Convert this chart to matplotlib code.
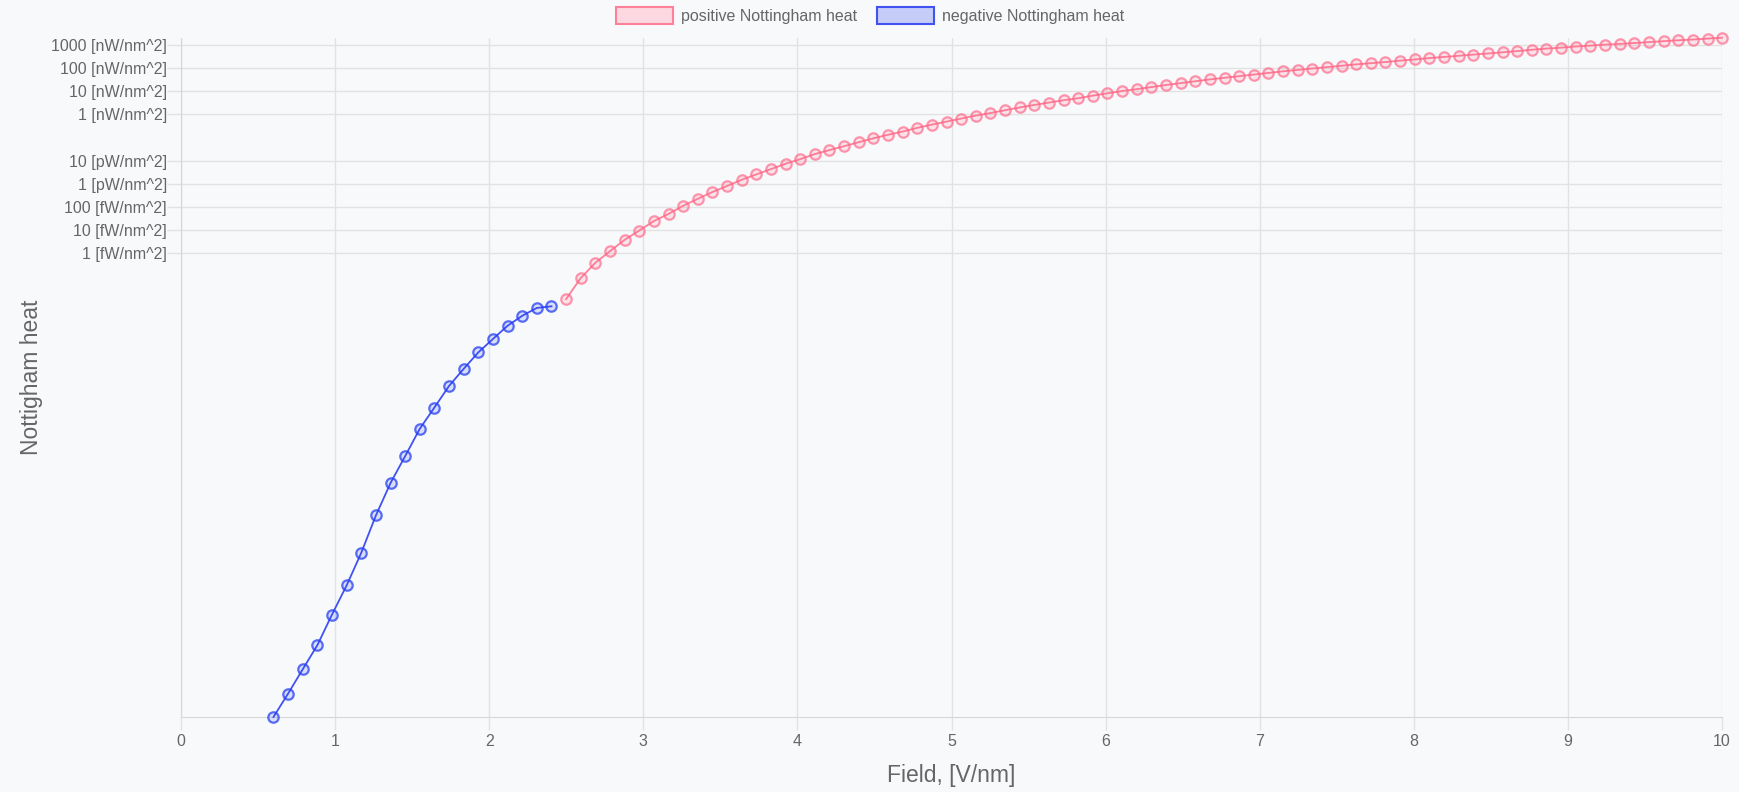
import matplotlib
matplotlib.use("Agg")
import matplotlib.pyplot as plt
from matplotlib.patches import Patch

# field values, V/nm
field_neg = [0.600, 0.695, 0.790, 0.885, 0.980, 1.075, 1.170, 1.265, 1.360, 1.455,
             1.549, 1.644, 1.739, 1.834, 1.929, 2.024, 2.119, 2.214, 2.309, 2.404]
field_pos = [2.499, 2.594, 2.689, 2.784, 2.879, 2.974, 3.069, 3.164, 3.259, 3.354,
             3.448, 3.543, 3.638, 3.733, 3.828, 3.923, 4.018, 4.113, 4.208, 4.303,
             4.398, 4.493, 4.588, 4.683, 4.778, 4.873, 4.968, 5.063, 5.158, 5.253,
             5.347, 5.442, 5.537, 5.632, 5.727, 5.822, 5.917, 6.012, 6.107, 6.202,
             6.297, 6.392, 6.487, 6.582, 6.677, 6.772, 6.867, 6.962, 7.057, 7.152,
             7.246, 7.341, 7.436, 7.531, 7.626, 7.721, 7.816, 7.911, 8.006, 8.101,
             8.196, 8.291, 8.386, 8.481, 8.576, 8.671, 8.766, 8.861, 8.956, 9.051,
             9.146, 9.241, 9.336, 9.431, 9.526, 9.621, 9.716, 9.811, 9.906, 10.0]

# heat on a log10 scale (W/nm^2)
heat_neg = [-35.0, -33.99, -32.94, -31.90, -30.58, -29.32, -27.91, -26.30, -24.90, -23.74,
            -22.57, -21.65, -20.72, -19.98, -19.27, -18.69, -18.12, -17.69, -17.35, -17.28]
heat_pos = [-16.97, -16.06, -15.40, -14.90, -14.41, -14.01, -13.60, -13.29, -12.94, -12.64,
            -12.35, -12.09, -11.82, -11.59, -11.36, -11.13, -10.93, -10.71, -10.54, -10.37,
            -10.20, -10.03, -9.88, -9.74, -9.58, -9.44, -9.31, -9.18, -9.05, -8.94,
            -8.82, -8.70, -8.59, -8.49, -8.39, -8.30, -8.19, -8.09, -7.99, -7.91,
            -7.82, -7.73, -7.65, -7.57, -7.49, -7.42, -7.35, -7.28, -7.21, -7.14,
            -7.08, -7.02, -6.96, -6.90, -6.84, -6.79, -6.74, -6.68, -6.63, -6.57,
            -6.52, -6.47, -6.42, -6.37, -6.32, -6.27, -6.21, -6.16, -6.12, -6.07,
            -6.03, -5.99, -5.96, -5.92, -5.88, -5.84, -5.80, -5.77, -5.73, -5.69]

ytick_vals = [-6, -7, -8, -9, -11, -12, -13, -14, -15]
ytick_labels = ["1000 [nW/nm^2]", "100 [nW/nm^2]", "10 [nW/nm^2]", "1 [nW/nm^2]",
                "10 [pW/nm^2]", "1 [pW/nm^2]", "100 [fW/nm^2]", "10 [fW/nm^2]", "1 [fW/nm^2]"]
xticks = list(range(0, 11))

bg = "#f8f9fb"
grid = "#e2e2e2"
txt = "#666666"
pink_line, pink_fill = "#ff8099", "#fcd9e0"
blue_line, blue_fill = "#4152f2", "#c6ccf8"
pink_mk = (1.0, 0.39, 0.52, 0.65)
pink_mf = (1.0, 0.39, 0.52, 0.15)
blue_mk = (0.15, 0.25, 0.95, 0.75)
blue_mf = (0.15, 0.25, 0.95, 0.15)

plt.rcParams["font.family"] = ["Liberation Sans", "DejaVu Sans"]

fig = plt.figure(figsize=(17.4, 7.92), dpi=100, facecolor=bg)
ax = fig.add_axes([181 / 1740, 1 - 717 / 792, (1722 - 181) / 1740, (717 - 37.7) / 792])
ax.set_facecolor(bg)

ax.plot(field_pos, heat_pos, color=pink_line, lw=1.3, zorder=3, clip_on=False)
ax.plot(field_pos, heat_pos, ls="none", marker="o", ms=7.5,
        mfc=pink_mf, mec=pink_mk, mew=1.6, clip_on=False, zorder=4)
ax.plot(field_neg, heat_neg, color=blue_line, lw=1.3, zorder=3, clip_on=False)
ax.plot(field_neg, heat_neg, ls="none", marker="o", ms=7.5,
        mfc=blue_mf, mec=blue_mk, mew=1.6, clip_on=False, zorder=4)

ax.set_xlim(0, 10)
ax.set_ylim(-35, -5.69)
ax.set_xticks(xticks)
ax.set_yticks(ytick_vals)
ax.set_yticklabels(ytick_labels)

ax.grid(True, color=grid, lw=1)
ax.tick_params(axis="both", colors=grid, labelcolor=txt, labelsize=11.5, length=10, width=1)
ax.tick_params(axis="y", pad=0)
ax.tick_params(axis="x", length=9, pad=3)
for side in ["top", "right"]:
    ax.spines[side].set_visible(False)
ax.spines["left"].set_color("#d6d6d6")
ax.spines["bottom"].set_color("#d6d6d6")

ax.set_xlabel("Field, [V/nm]", fontsize=16.5, color=txt, labelpad=11)
ax.set_ylabel("Nottigham heat", fontsize=16.5, color=txt, labelpad=6)

handles = [Patch(facecolor=pink_fill, edgecolor=pink_line, lw=1.5, label="positive Nottingham heat"),
           Patch(facecolor=blue_fill, edgecolor=blue_line, lw=1.5, label="negative Nottingham heat")]
fig.legend(handles=handles, loc="center", bbox_to_anchor=(0.5, 1 - 15.5 / 792), ncol=2,
           frameon=False, fontsize=11.5, labelcolor=txt, handlelength=3.6, handleheight=1.2,
           handletextpad=0.5, columnspacing=1.2)

fig.savefig("out.png", dpi=100, facecolor=bg)
